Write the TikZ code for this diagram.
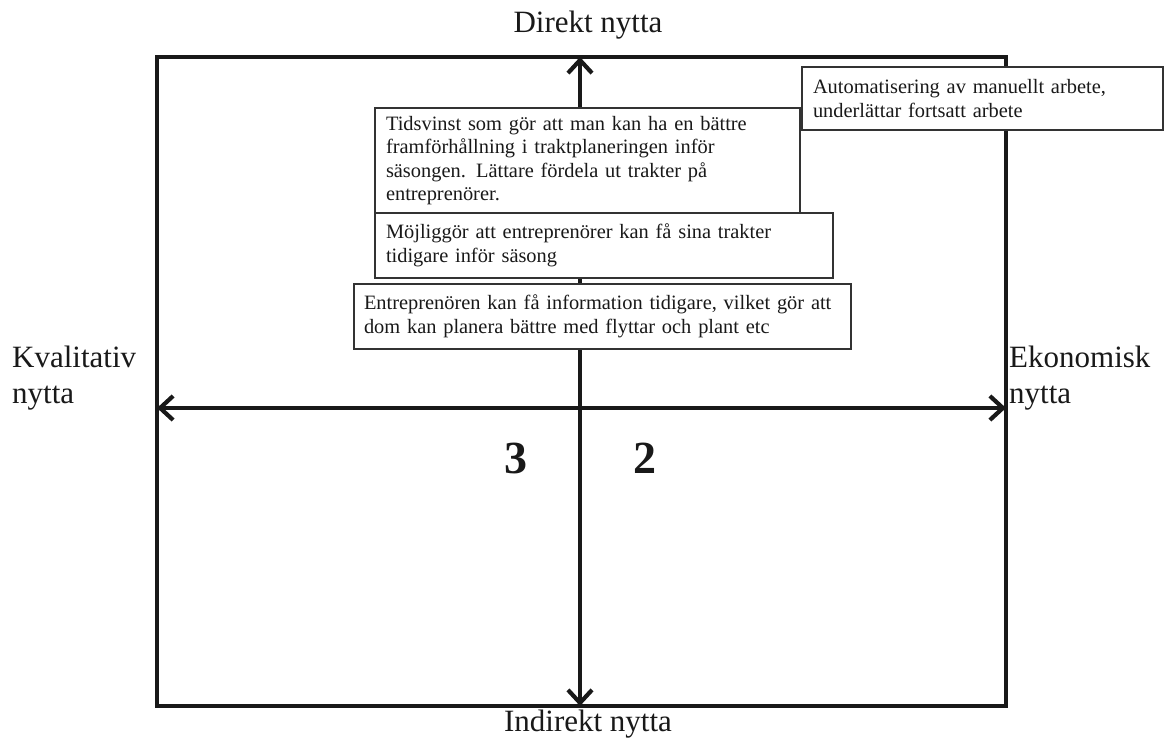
\documentclass[tikz,border=0pt]{standalone}
\usepackage{fontspec}
\setmainfont{Liberation Serif}
\usetikzlibrary{arrows.meta}
\begin{document}
\begin{tikzpicture}[x=1pt,y=-1pt,
  frame/.style={line width=3.5pt, draw=black!90},
  axis/.style={line width=4.2pt, draw=black!90, line join=round,
    {Straight Barb[length=13pt,width=24pt]}-{Straight Barb[length=13pt,width=24pt]}},
  note/.style={draw=black!80, line width=1.2pt, fill=white, anchor=north west,
    align=left, inner ysep=0pt, outer sep=0pt, text=black!90,
    font=\fontsize{20.4}{23.5}\selectfont},
  axislabel/.style={text=black!90, font=\fontsize{31}{36}\selectfont},
  quad/.style={text=black!90, font=\fontsize{46}{50}\selectfont\bfseries}
]
\path[use as bounding box] (0,0) rectangle (1165,738);

% outer frame
\coordinate (nw) at (157,57);
\coordinate (se) at (1006,706);
\draw[frame] (nw) rectangle (se);

% axes
\coordinate (top) at (580,57);
\coordinate (bottom) at (580,706);
\coordinate (left) at (157,408);
\coordinate (right) at (1006,408);
\draw[axis] (bottom) -- (top);
\draw[axis] (left) -- (right);

% axis labels
\node[axislabel, anchor=base] (direkt) at (588,33) {Direkt nytta};
\node[axislabel, anchor=base] (indirekt) at (588,731) {Indirekt nytta};
\node[axislabel, anchor=base west, align=left, inner sep=0pt] (kval) at (12,403) {Kvalitativ\\nytta};
\node[axislabel, anchor=base west, align=left, inner sep=0pt] (ekon) at (1009,403) {Ekonomisk\\nytta};

% quadrant numbers
\node[quad, anchor=base] (q3) at (516,473) {3};
\node[quad, anchor=base] (q2) at (645,473) {2};

% benefit notes
\node[note, minimum width=425pt, minimum height=105pt, text width=403pt, inner xsep=11pt] (tid) at (375,108)
  {Tidsvinst som gör att man kan ha en bättre\\framförhållning i traktplaneringen inför\\säsongen. Lättare fördela ut trakter på\\entreprenörer.};
\node[note, minimum width=458pt, minimum height=65pt, text width=436pt, inner xsep=11pt] (moj) at (375,213)
  {Möjliggör att entreprenörer kan få sina trakter\\tidigare inför säsong};
\node[note, minimum width=497pt, minimum height=65pt, text width=477pt, inner xsep=10pt] (info) at (354,284)
  {\mbox{Entreprenören kan få information tidigare, vilket gör att}\\dom kan planera bättre med flyttar och plant etc};
\node[note, minimum width=361pt, minimum height=63pt, text width=339pt, inner xsep=11pt] (auto) at (802,67)
  {Automatisering av manuellt arbete,\\underlättar fortsatt arbete};
\end{tikzpicture}
\end{document}
